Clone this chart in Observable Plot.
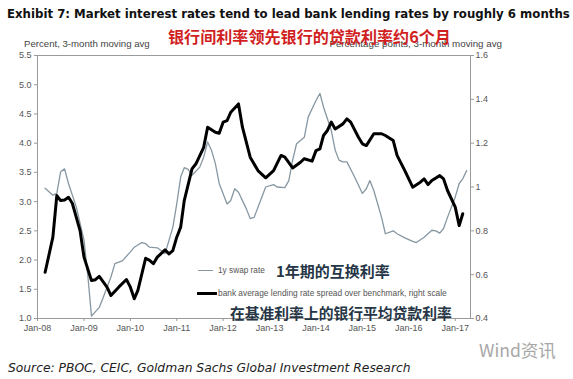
<!DOCTYPE html>
<html><head><meta charset="utf-8">
<script src="https://cdn.jsdelivr.net/npm/d3@7"></script>
<script src="https://cdn.jsdelivr.net/npm/@observablehq/plot@0.6"></script>
<style>
body{margin:0;background:#fff;}
#wrap{position:relative;width:573px;height:379px;overflow:hidden;background:#fff;font-family:"Liberation Sans",Arial,sans-serif;}
#chart{position:absolute;left:0;top:0;}
.t{position:absolute;white-space:nowrap;line-height:1;display:inline-block;}
.sw{position:absolute;}
</style></head><body>
<div id="wrap">
  <div id="chart"></div>
  <div class="t" id="title" style="font-family:'DejaVu Sans';font-weight:bold;font-size:12.5px;color:#111;" data-x="7" data-cy="14.6" data-w="563">Exhibit 7: Market interest rates tend to lead bank lending rates by roughly 6 months</div>
  <div class="t" id="subL" style="font-size:9.5px;color:#444;" data-x="24" data-cy="43.5" data-w="126">Percent, 3-month moving avg</div>
  <div class="t" id="subR" style="font-size:9.5px;color:#444;" data-xr="502" data-cy="43.5" data-w="173">Percentage points, 3-month moving avg</div>
  <div class="t" id="red" style="font-family:'Noto Sans CJK SC';font-weight:bold;font-size:16px;color:#d11f1f;" data-x="168" data-cy="36.5" data-w="283">银行间利率领先银行的贷款利率约6个月</div>
  <div class="sw" style="left:198px;top:270px;width:15px;height:1.4px;background:#8797a2;"></div>
  <div class="t" id="leg1" style="font-size:8.5px;color:#555;" data-x="218" data-cy="270.7" data-w="47">1y swap rate</div>
  <div class="sw" style="left:197px;top:291.8px;width:20px;height:3px;background:#000;"></div>
  <div class="t" id="leg2" style="font-size:8.5px;color:#555;" data-x="218" data-cy="293.3" data-w="229">bank average lending rate spread over benchmark, right scale</div>
  <div class="t" id="cn1" style="font-family:'Noto Sans CJK SC';font-weight:bold;font-size:15px;color:#263646;" data-x="276" data-cy="270.7" data-w="114">1年期的互换利率</div>
  <div class="t" id="cn2" style="font-family:'Noto Sans CJK SC';font-weight:bold;font-size:15px;color:#263646;" data-x="230" data-cy="313" data-w="222">在基准利率上的银行平均贷款利率</div>
  <div class="t" id="wind" style="font-family:'Noto Sans CJK SC';font-size:13px;color:#a8a8a8;" data-x="479" data-cy="350" data-w="77">Wind资讯</div>
  <div class="t" id="src" style="font-family:'DejaVu Sans';font-style:italic;font-size:12.5px;color:#222;" data-x="8" data-cy="368" data-w="403">Source: PBOC, CEIC, Goldman Sachs Global Investment Research</div>
</div>
<script>
// 1y swap rate, percent (left scale)
const swapDates = ["2008-03","2008-05","2008-06","2008-07","2008-08","2008-09","2008-11","2009-01","2009-02","2009-03","2009-05","2009-06","2009-08","2009-09","2009-11","2010-01","2010-02","2010-04","2010-05","2010-06","2010-08","2010-09","2010-10","2010-12","2011-01","2011-02","2011-03","2011-04","2011-05","2011-07","2011-08","2011-09","2011-10","2011-11","2011-12","2012-02","2012-03","2012-04","2012-05","2012-07","2012-08","2012-09","2012-11","2012-12","2013-02","2013-03","2013-05","2013-06","2013-07","2013-08","2013-10","2013-11","2014-01","2014-02","2014-03","2014-05","2014-06","2014-07","2014-08","2014-09","2014-11","2015-01","2015-02","2015-03","2015-04","2015-06","2015-07","2015-09","2015-10","2015-12","2016-02","2016-03","2016-05","2016-07","2016-08","2016-09","2016-10","2016-11","2017-01","2017-02","2017-03","2017-04"];
const swapValues = [3.23,3.11,3.14,3.51,3.56,3.31,2.91,2.34,1.71,1.04,1.19,1.36,1.71,1.94,1.99,2.14,2.22,2.30,2.28,2.22,2.21,2.16,2.11,2.56,2.96,3.42,3.58,3.55,3.45,3.59,3.76,4.02,3.88,3.65,3.31,2.96,3.02,3.22,3.16,2.88,2.71,2.73,3.08,3.25,3.29,3.25,3.24,3.36,3.71,3.99,4.10,4.45,4.73,4.85,4.62,4.22,3.88,3.71,3.68,3.68,3.42,3.14,3.22,3.36,3.19,2.73,2.45,2.50,2.45,2.38,2.32,2.30,2.39,2.51,2.50,2.46,2.54,2.73,3.08,3.31,3.39,3.53];

// bank average lending rate spread over benchmark, percentage points (right scale)
const spreadDates = ["2008-03","2008-05","2008-06","2008-07","2008-08","2008-09","2008-10","2008-12","2009-01","2009-03","2009-04","2009-05","2009-07","2009-08","2009-10","2009-12","2010-01","2010-02","2010-03","2010-05","2010-06","2010-07","2010-08","2010-10","2010-11","2010-12","2011-01","2011-02","2011-03","2011-05","2011-06","2011-08","2011-09","2011-11","2011-12","2012-01","2012-02","2012-03","2012-05","2012-06","2012-08","2012-10","2012-12","2013-02","2013-04","2013-05","2013-07","2013-09","2013-10","2013-12","2014-01","2014-02","2014-03","2014-04","2014-05","2014-06","2014-08","2014-09","2014-10","2014-12","2015-01","2015-02","2015-04","2015-06","2015-07","2015-09","2015-10","2015-12","2016-02","2016-04","2016-05","2016-06","2016-07","2016-09","2016-10","2016-11","2017-01","2017-02","2017-03"];
const spreadValues = [0.611,0.771,0.961,0.938,0.941,0.953,0.926,0.801,0.680,0.573,0.577,0.592,0.543,0.505,0.543,0.578,0.543,0.490,0.528,0.675,0.665,0.650,0.680,0.713,0.695,0.710,0.771,0.817,0.938,1.083,1.106,1.181,1.273,1.250,1.245,1.296,1.303,1.341,1.379,1.273,1.136,1.075,1.042,1.075,1.144,1.136,1.087,1.113,1.129,1.118,1.166,1.174,1.235,1.258,1.296,1.265,1.288,1.311,1.296,1.227,1.197,1.189,1.243,1.243,1.235,1.212,1.144,1.075,0.999,1.022,1.037,1.011,1.030,1.052,1.037,0.984,0.908,0.824,0.878];

const leftTicks = [1.0,1.5,2.0,2.5,3.0,3.5,4.0,4.5,5.0,5.5];
const rightTicks = [0.4,0.6,0.8,1.0,1.2,1.4,1.6];
const yearTicks = ["2008","2009","2010","2011","2012","2013","2014","2015","2016","2017"];

const parseM = d3.utcParse("%Y-%m");
const parseY = d3.utcParse("%Y");
const L0 = 1, L1 = 5.5, R0 = 0.4, R1 = 1.6;
const toLeft = r => L0 + (r - R0) * (L1 - L0) / (R1 - R0);
const toRight = v => R0 + (v - L0) * (R1 - R0) / (L1 - L0);

const swap = swapDates.map((d, i) => ({date: parseM(d), value: swapValues[i]}));
const spread = spreadDates.map((d, i) => ({date: parseM(d), value: toLeft(spreadValues[i])}));

const chart = Plot.plot({
  width: 573, height: 379,
  marginTop: 55, marginBottom: 61, marginLeft: 37, marginRight: 103,
  style: {background: "transparent", fontFamily: "'Liberation Sans', Arial, sans-serif", fontSize: "9px", color: "#555"},
  x: {type: "utc", domain: [parseM("2008-01"), parseM("2017-05")]},
  y: {domain: [L0, L1]},
  marks: [
    Plot.frame({stroke: "#9a9a9a"}),
    Plot.axisY({ticks: leftTicks, tickFormat: d => d.toFixed(1), anchor: "left", tickSize: 3, tickPadding: 3, label: null, stroke: "#9a9a9a", fill: "#555"}),
    Plot.axisY({ticks: rightTicks.map(toLeft), tickFormat: v => String(+toRight(v).toFixed(1)), anchor: "right", tickSize: 3, tickPadding: 2, label: null, stroke: "#9a9a9a", fill: "#555"}),
    Plot.axisX({ticks: yearTicks.map(parseY), tickFormat: d3.utcFormat("Jan-%y"), tickSize: 3, tickPadding: 3, label: null, stroke: "#9a9a9a", fill: "#555"}),
    Plot.line(swap, {x: "date", y: "value", stroke: "#8797a2", strokeWidth: 1.3}),
    Plot.line(spread, {x: "date", y: "value", stroke: "#000", strokeWidth: 3, strokeLinejoin: "round"})
  ]
});
document.getElementById("chart").appendChild(chart);

// position and fit text blocks
document.querySelectorAll(".t").forEach(el => {
  const w = +el.dataset.w;
  const fs0 = parseFloat(getComputedStyle(el).fontSize);
  const cur = el.getBoundingClientRect().width;
  const fs = fs0 * w / cur;
  el.style.fontSize = fs + "px";
  const r = el.getBoundingClientRect();
  el.style.top = (+el.dataset.cy - r.height / 2) + "px";
  if (el.dataset.xr) el.style.left = (+el.dataset.xr - r.width) + "px";
  else el.style.left = el.dataset.x + "px";
});
</script>
</body></html>
